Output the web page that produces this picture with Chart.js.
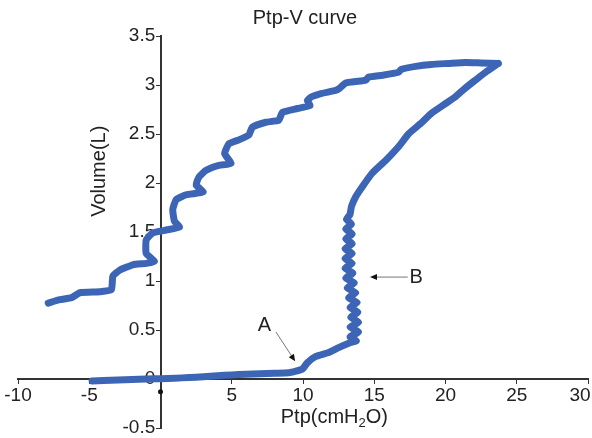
<!DOCTYPE html>
<html>
<head>
<meta charset="utf-8">
<title>Ptp-V curve</title>
<script src="https://cdn.jsdelivr.net/npm/chart.js@4.4.1/dist/chart.umd.min.js"></script>
<style>
  html, body { margin: 0; padding: 0; background: #fff; overflow: hidden; }
  #wrap { width: 592px; height: 438px; }
</style>
</head>
<body>
<div id="wrap"><canvas id="myChart"></canvas></div>
<script>
// data (Ptp in cmH2O, volume in L)
// inflation limb: along the bottom, up the wavy column, out to the peak
const inspPtp = [
  -4.8, -4, -3, -2, -1, 0, 1, 2, 3, 4, 5, 6, 7, 8, 9, 9.5, 9.95, 10.3, 10.9, 11.8, 12.5, 13.3, 13.75,
  13.3, 13.9, 13.3, 13.9, 13.35, 13.85, 13.3, 13.8, 13.2, 13.7, 13.1, 13.6, 13.0, 13.5, 12.95, 13.45,
  12.95, 13.45, 12.95, 13.45, 13.0, 13.45, 13.0, 13.4, 13.05, 13.3,
  13.4, 13.7, 14.15, 14.85, 15.8, 16.7, 17.4, 18.2, 19.0, 19.9, 20.7, 21.4, 22.1, 22.9, 23.7
];
const inspVol = [
  -0.02, -0.015, -0.01, -0.005, 0, 0.003, 0.008, 0.015, 0.022, 0.032, 0.042, 0.048, 0.053, 0.058, 0.063, 0.08, 0.1, 0.165, 0.23, 0.27, 0.32, 0.37, 0.39,
  0.43, 0.48, 0.53, 0.58, 0.63, 0.68, 0.73, 0.78, 0.83, 0.88, 0.93, 0.98, 1.03, 1.08, 1.13, 1.18,
  1.23, 1.28, 1.33, 1.38, 1.43, 1.48, 1.53, 1.58, 1.63, 1.68,
  1.76, 1.86, 1.96, 2.1, 2.23, 2.37, 2.5, 2.6, 2.71, 2.8, 2.88, 2.97, 3.05, 3.14, 3.22
];
// deflation limb: from the peak back along the top, stepping down to the left
const expPtp = [
  23.7, 22.5, 21.4, 20.2, 19.0, 17.9, 16.9, 16.7, 15.6, 14.6, 14.4, 13.7, 13.0, 12.5, 12.3, 11.2, 10.6, 10.3, 10.5, 9.6,
  8.55, 8.3, 7.4, 6.45, 6.2, 5.5, 4.8, 4.5, 4.95, 4.1, 3.2, 2.7, 2.5, 3.0, 2.5, 1.8, 1.1, 0.86, 0.98, 1.33,
  0.4, -0.54, -1.0, -1.0, -0.42, -1.0, -1.94, -2.87, -3.34, -3.45, -4.27, -5.66, -6.24, -7.06, -7.88
];
const expVol = [
  3.22, 3.225, 3.23, 3.22, 3.21, 3.19, 3.16, 3.13, 3.1, 3.08, 3.05, 3.035, 3.02, 2.96, 2.945, 2.91, 2.88, 2.84, 2.79, 2.76,
  2.72, 2.64, 2.62, 2.57, 2.49, 2.44, 2.4, 2.3, 2.2, 2.18, 2.13, 2.06, 1.98, 1.91, 1.895, 1.88, 1.83, 1.73, 1.61, 1.55,
  1.52, 1.49, 1.42, 1.28, 1.2, 1.18, 1.165, 1.11, 1.05, 0.91, 0.89, 0.88, 0.83, 0.81, 0.775
];
// stray mark just under the origin
const originMark = [{ x: 0, y: -0.13 }];

// annotations: label position, arrow tail, arrow head
const noteLabels = ['A', 'B'];
const notePos = [[7.3, 0.55], [17.95, 1.04]];
const noteTail = [[8.1, 0.48], [17.35, 1.04]];
const noteHead = [[9.45, 0.18], [14.7, 1.04]];

const xMin = -10, xMax = 30, xStep = 5;
const yMin = -0.5, yMax = 3.5, yStep = 0.5;

const toPoints = (xs, ys) => xs.map((x, i) => ({ x: x, y: ys[i] }));

const FONT = "'Liberation Sans', Arial, Helvetica, sans-serif";
const TEXT = '#222';
const AXIS = '#333';
const BLUE = '#3d65b5';

Chart.defaults.font.family = FONT;

// axis titles and the A / B arrows
const extras = {
  id: 'extras',
  afterDatasetsDraw(chart) {
    const { ctx, chartArea: a, scales: { x, y } } = chart;
    ctx.save();
    ctx.fillStyle = TEXT;
    ctx.textBaseline = 'middle';

    // y title, rotated
    ctx.save();
    ctx.translate(x.getPixelForValue(-4.3), y.getPixelForValue(2.12));
    ctx.rotate(-Math.PI / 2);
    ctx.textAlign = 'center';
    ctx.font = '20px ' + FONT;
    ctx.fillText('Volume(L)', 0, 0);
    ctx.restore();

    // x title with subscript 2
    ctx.textAlign = 'left';
    ctx.textBaseline = 'alphabetic';
    const big = '20px ' + FONT, small = '13px ' + FONT;
    ctx.font = big;
    const w1 = ctx.measureText('Ptp(cmH').width;
    const w3 = ctx.measureText('O)').width;
    ctx.font = small;
    const w2 = ctx.measureText('2').width;
    const cx = x.getPixelForValue(12.2);
    const base = a.bottom - 5;
    let px = cx - (w1 + w2 + w3) / 2;
    ctx.font = big;
    ctx.fillText('Ptp(cmH', px, base);
    px += w1;
    ctx.font = small;
    ctx.fillText('2', px, base + 4);
    px += w2;
    ctx.font = big;
    ctx.fillText('O)', px, base);

    // annotations
    ctx.textAlign = 'center';
    ctx.textBaseline = 'middle';
    ctx.font = '20px ' + FONT;
    noteLabels.forEach((t, i) => {
      ctx.fillStyle = TEXT;
      ctx.fillText(t, x.getPixelForValue(notePos[i][0]), y.getPixelForValue(notePos[i][1]));
      const x1 = x.getPixelForValue(noteTail[i][0]), y1 = y.getPixelForValue(noteTail[i][1]);
      const x2 = x.getPixelForValue(noteHead[i][0]), y2 = y.getPixelForValue(noteHead[i][1]);
      const ang = Math.atan2(y2 - y1, x2 - x1);
      ctx.strokeStyle = '#777';
      ctx.lineWidth = 1;
      ctx.beginPath();
      ctx.moveTo(x1, y1);
      ctx.lineTo(x2 - 5 * Math.cos(ang), y2 - 5 * Math.sin(ang));
      ctx.stroke();
      ctx.fillStyle = '#111';
      ctx.beginPath();
      ctx.moveTo(x2, y2);
      ctx.lineTo(x2 - 7 * Math.cos(ang) + 3 * Math.sin(ang), y2 - 7 * Math.sin(ang) - 3 * Math.cos(ang));
      ctx.lineTo(x2 - 7 * Math.cos(ang) - 3 * Math.sin(ang), y2 - 7 * Math.sin(ang) + 3 * Math.cos(ang));
      ctx.closePath();
      ctx.fill();
    });
    ctx.restore();
  }
};

const loopStyle = {
  showLine: true,
  borderColor: BLUE,
  backgroundColor: BLUE,
  borderWidth: 7,
  pointRadius: 0,
  tension: 0.15,
  borderJoinStyle: 'round',
  borderCapStyle: 'round'
};

const config = {
  type: 'scatter',
  data: {
    datasets: [
      Object.assign({ label: 'Inflation', data: toPoints(inspPtp, inspVol) }, loopStyle),
      Object.assign({ label: 'Deflation', data: toPoints(expPtp, expVol) }, loopStyle),
      { label: 'mark', data: originMark, pointRadius: 2.5, backgroundColor: '#111', borderWidth: 0 }
    ]
  },
  options: {
    responsive: true,
    maintainAspectRatio: false,
    animation: false,
    layout: { padding: { left: 18, right: 0, top: 0, bottom: 10 } },
    plugins: {
      legend: { display: false },
      tooltip: { enabled: false },
      title: {
        display: true,
        text: 'Ptp-V curve',
        color: TEXT,
        font: { size: 20, weight: 'normal' },
        padding: { top: 6, bottom: 6 }
      }
    },
    scales: {
      x: {
        type: 'linear',
        position: { y: 0 },
        min: xMin,
        max: xMax,
        border: { color: AXIS, width: 2 },
        grid: { drawOnChartArea: false, tickLength: 4, color: AXIS },
        ticks: {
          stepSize: xStep,
          color: TEXT,
          font: { size: 19 },
          padding: 1,
          maxRotation: 0,
          autoSkip: false,
          // no 0 under the origin; pad 30 so it sits inside the page like the original
          callback: (v) => v === 0 ? '' : (v === xMax ? v + '   ' : v)
        },
        afterFit: (s) => { s.paddingRight = 2; }
      },
      y: {
        type: 'linear',
        position: { x: 0 },
        min: yMin,
        max: yMax,
        border: { color: AXIS, width: 2 },
        grid: { drawOnChartArea: false, tickLength: 4, color: AXIS },
        ticks: {
          stepSize: yStep,
          color: TEXT,
          font: { size: 19 },
          // centred axis draws labels flush to the line; a trailing space gives the gap
          callback: (v) => (Math.round(v * 10) / 10) + ' '
        },
        afterFit: (s) => { s.paddingTop = 0; s.paddingBottom = 0; }
      }
    }
  },
  plugins: [extras]
};

const myChart = new Chart(document.getElementById('myChart'), config);
</script>
</body>
</html>
